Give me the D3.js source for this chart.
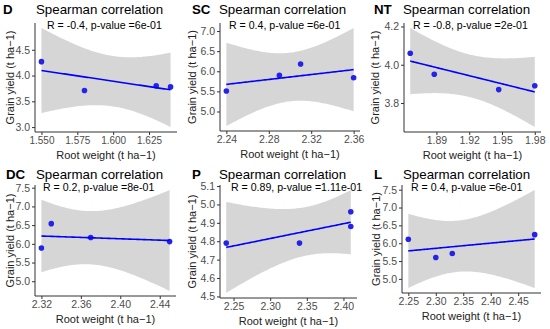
<!DOCTYPE html>
<html><head><meta charset="utf-8">
<script src="https://cdn.jsdelivr.net/npm/d3@7"></script>
<style>body{margin:0;background:#fff}svg{display:block}</style>
</head><body>
<svg id="chart" width="550" height="329"></svg>
<script>
// ---- data ----
const panelLabels = ["D", "SC", "NT", "DC", "P", "L"];
const statText = [
  "R = -0.4, p-value =6e-01",
  "R = 0.4, p-value =6e-01",
  "R = -0.8, p-value =2e-01",
  "R = 0.2, p-value =8e-01",
  "R = 0.89, p-value =1.11e-01",
  "R = 0.4, p-value =6e-01"
];
const xD  = [1.55, 1.58, 1.63, 1.64];   const yD  = [4.27, 3.71, 3.80, 3.78];
const xSC = [2.24, 2.29, 2.31, 2.36];   const ySC = [5.51, 5.90, 6.18, 5.84];
const xNT = [1.866, 1.888, 1.947, 1.98]; const yNT = [4.06, 3.95, 3.87, 3.89];
const xDC = [2.32, 2.33, 2.37, 2.45];   const yDC = [5.89, 6.54, 6.17, 6.06];
const xP  = [2.24, 2.34, 2.41, 2.41];   const yP  = [4.79, 4.79, 4.96, 4.88];
const xL  = [2.25, 2.30, 2.33, 2.48];   const yL  = [6.11, 5.60, 5.71, 6.24];

const xTicksD  = [1.550, 1.575, 1.600, 1.625]; const yTicksD  = [3.0, 3.5, 4.0, 4.5];
const xTicksSC = [2.24, 2.28, 2.32, 2.36];     const yTicksSC = [5.0, 5.5, 6.0, 6.5, 7.0];
const xTicksNT = [1.89, 1.92, 1.95, 1.98];     const yTicksNT = [3.8, 4.0, 4.2];
const xTicksDC = [2.32, 2.36, 2.40, 2.44];     const yTicksDC = [5.0, 5.5, 6.0, 6.5, 7.0, 7.5];
const xTicksP  = [2.25, 2.30, 2.35, 2.40];     const yTicksP  = [4.5, 4.6, 4.7, 4.8, 4.9, 5.0, 5.1];
const xTicksL  = [2.25, 2.30, 2.35, 2.40, 2.45]; const yTicksL = [5.0, 5.5, 6.0, 6.5, 7.0, 7.5];
const xFormats = [".3f", ".2f", ".2f", ".2f", ".2f", ".2f"];
const yFormats = [".1f", ".1f", ".1f", ".1f", ".1f", ".1f"];

const xTitle = "Root weight (t ha\u22121)";
const yTitle = "Grain yield (t ha\u22121)";
const plotTitle = "Spearman correlation";

// ---- layout (pixel boxes of each panel) ----
const boxes = [
  {l: 35,  r: 177, t: 23,  b: 132, lab: 3,   titleX: 36,  annX: 47,  ty: 14,  yt: 14,  xf: 10},
  {l: 220, r: 360, t: 23,  b: 131, lab: 192, titleX: 219, annX: 229, ty: 14,  yt: 196, xf: 10.5},
  {l: 404, r: 541, t: 23,  b: 132, lab: 374, titleX: 403, annX: 413, ty: 14,  yt: 379, xf: 10.5},
  {l: 35,  r: 176, t: 185, b: 296, lab: 6,   titleX: 36,  annX: 43,  ty: 179, yt: 14,  xf: 10.5},
  {l: 220, r: 357, t: 185, b: 298, lab: 192, titleX: 219, annX: 231, ty: 179, yt: 196, xf: 10.5},
  {l: 402, r: 541, t: 185, b: 293, lab: 374, titleX: 403, annX: 411, ty: 179, yt: 380, xf: 10.5}
];

const xs = [xD, xSC, xNT, xDC, xP, xL];
const ys = [yD, ySC, yNT, yDC, yP, yL];
const xTicks = [xTicksD, xTicksSC, xTicksNT, xTicksDC, xTicksP, xTicksL];
const yTicks = [yTicksD, yTicksSC, yTicksNT, yTicksDC, yTicksP, yTicksL];

const T975_DF2 = 4.302653;
const FONT = "Arial, 'Liberation Sans', Helvetica, sans-serif";

function linFit(x, y) {
  const n = x.length, mx = d3.mean(x), my = d3.mean(y);
  let sxx = 0, sxy = 0;
  for (let i = 0; i < n; i++) { sxx += (x[i]-mx)**2; sxy += (x[i]-mx)*(y[i]-my); }
  const b = sxy / sxx, a = my - b * mx;
  let sse = 0;
  for (let i = 0; i < n; i++) sse += (y[i] - a - b*x[i])**2;
  const s = Math.sqrt(sse / (n - 2));
  return x0 => {
    const f = a + b * x0;
    const se = s * Math.sqrt(1/n + (x0-mx)**2 / sxx);
    return {x: x0, f, lo: f - T975_DF2 * se, hi: f + T975_DF2 * se};
  };
}

const svg = d3.select("#chart");

boxes.forEach((bx, i) => {
  const x = xs[i], y = ys[i];
  const pred = linFit(x, y);
  const [x0, x1] = d3.extent(x);
  const grid = d3.range(80).map(k => pred(x0 + (x1 - x0) * k / 79));
  const ymin = Math.min(d3.min(y), d3.min(grid, d => d.lo));
  const ymax = Math.max(d3.max(y), d3.max(grid, d => d.hi));
  const ex = (x1 - x0) * 0.05, ey = (ymax - ymin) * 0.05;
  const sx = d3.scaleLinear().domain([x0 - ex, x1 + ex]).range([bx.l, bx.r]);
  const sy = d3.scaleLinear().domain([ymin - ey, ymax + ey]).range([bx.b, bx.t]);

  const g = svg.append("g");

  g.append("path").datum(grid)
    .attr("d", d3.area().x(d => sx(d.x)).y0(d => sy(d.lo)).y1(d => sy(d.hi)))
    .attr("fill", "#d6d6d6");

  g.selectAll("circle").data(x.map((v, k) => [v, y[k]])).join("circle")
    .attr("cx", d => sx(d[0])).attr("cy", d => sy(d[1])).attr("r", 2.8)
    .attr("fill", "#2424e6");

  g.append("path").datum(grid)
    .attr("d", d3.line().x(d => sx(d.x)).y(d => sy(d.f)))
    .attr("fill", "none").attr("stroke", "#0000ff").attr("stroke-width", 1.6);

  const xa = g.append("g").attr("transform", `translate(0,${bx.b})`)
    .call(d3.axisBottom(sx).tickValues(xTicks[i]).tickFormat(d3.format(xFormats[i])).tickSize(3).tickPadding(2));
  const ya = g.append("g").attr("transform", `translate(${bx.l},0)`)
    .call(d3.axisLeft(sy).tickValues(yTicks[i]).tickFormat(d3.format(yFormats[i])).tickSize(3).tickPadding(2));
  [xa, ya].forEach(a => {
    a.select(".domain").attr("stroke", "#333").attr("stroke-width", 1);
    a.selectAll(".tick line").attr("stroke", "#333");
    a.selectAll(".tick text").attr("fill", "#4d4d4d").style("font-family", FONT).style("font-size", "10.5px");
  });
  xa.selectAll(".tick text").style("font-size", bx.xf + "px");
  xa.select(".domain").attr("d", `M${bx.l},0H${bx.r}`);
  ya.select(".domain").attr("d", `M0,${bx.b}V${bx.t}`);

  g.append("text").attr("x", (bx.l + bx.r) / 2).attr("y", bx.b + 27)
    .attr("text-anchor", "middle").style("font-family", FONT).style("font-size", "11px")
    .attr("fill", "#222").text(xTitle);
  g.append("text")
    .attr("transform", `translate(${bx.yt},${(bx.t + bx.b) / 2}) rotate(-90)`)
    .attr("text-anchor", "middle").style("font-family", FONT).style("font-size", "11px")
    .attr("fill", "#222").text(yTitle);

  g.append("text").attr("x", bx.lab).attr("y", bx.ty)
    .style("font-family", FONT).style("font-size", "13.3px").style("font-weight", "bold")
    .attr("fill", "#000").text(panelLabels[i]);
  g.append("text").attr("x", bx.titleX).attr("y", bx.ty)
    .style("font-family", FONT).style("font-size", "13.3px")
    .attr("fill", "#000").text(plotTitle);

  g.append("text").attr("x", bx.annX).attr("y", bx.t + 6)
    .style("font-family", FONT).style("font-size", "10.6px")
    .attr("fill", "#000").text(statText[i]);
});
</script>
</body></html>
